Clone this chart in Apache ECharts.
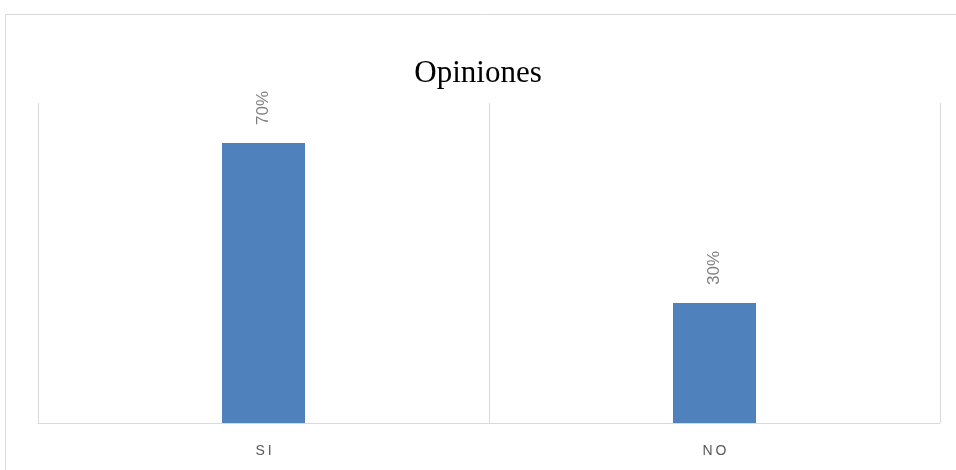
<!DOCTYPE html>
<html><head><meta charset="utf-8">
<script src="https://cdn.jsdelivr.net/npm/echarts@6/dist/echarts.min.js"></script>
<style>html,body{margin:0;padding:0;background:#fff}#c{width:956px;height:470px}</style>
</head><body><div id="c"></div>
<script>
const categories = ["SI", "NO"];
const values = [70, 30];
const titleText = "Opiniones";

const chart = echarts.init(document.getElementById('c'), null, {renderer: 'canvas'});
chart.setOption({
  animation: false,
  backgroundColor: '#fff',
  graphic: [{
    type: 'rect', shape: {x: 5.5, y: 14.5, width: 1000, height: 500},
    style: {fill: 'none', stroke: '#d9d9d9', lineWidth: 1}, silent: true
  }],
  title: {
    text: titleText, left: 'center', top: 53,
    textStyle: {fontFamily: 'Liberation Serif', fontSize: 31, fontWeight: 'normal', color: '#000'}
  },
  grid: {left: 38, right: 16, top: 103, bottom: 47},
  xAxis: {
    type: 'category', data: categories, boundaryGap: true,
    axisLine: {lineStyle: {color: '#d9d9d9', width: 1}},
    axisTick: {show: false},
    splitLine: {show: true, lineStyle: {color: '#d9d9d9', width: 1}},
    axisLabel: {
      color: '#595959', fontFamily: 'Liberation Sans', fontSize: 14, margin: 21,
      formatter: v => v.split('').join('\u2009')
    }
  },
  yAxis: {
    type: 'value', min: 0, max: 80, show: false,
    splitLine: {show: false}
  },
  series: [{
    type: 'bar', data: values, barWidth: 83,
    itemStyle: {color: '#4f81bd'},
    label: {
      show: true, position: 'top', rotate: 90, distance: 18,
      align: 'left', verticalAlign: 'middle',
      formatter: p => p.value + '%',
      color: '#7f7f7f', fontFamily: 'Liberation Sans', fontSize: 17
    }
  }]
});
</script></body></html>
